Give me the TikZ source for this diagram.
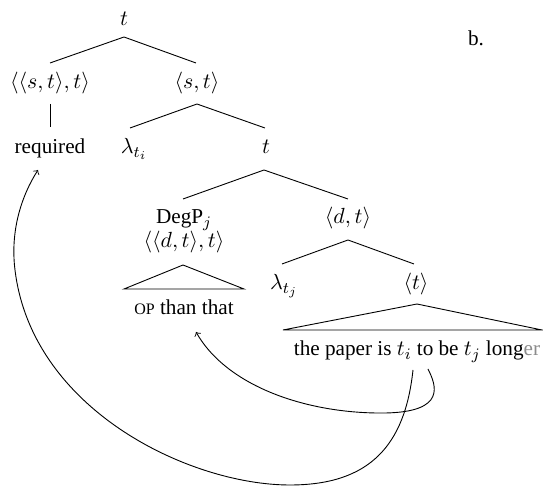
\documentclass[tikz,border=0pt]{standalone}
\usepackage{fontspec}
\setmainfont{Liberation Serif}
\DeclareMathSizes{10.6}{11.4}{8.2}{6.2}
\begin{document}
\begin{tikzpicture}[x=0.5pt,y=-0.5pt,
  lbl/.style={anchor=base,inner sep=0pt,outer sep=0pt,font=\fontsize{10.6}{12.7}\selectfont},
  branch/.style={line width=0.45pt},
  mov/.style={line width=0.45pt,->}]
\useasboundingbox (0,0) rectangle (543,486);
% labels
\node[lbl] (root) at (124,26) {$t$};
\node[lbl] (sttt) at (50,89) {$\langle\langle s,t\rangle,t\rangle$};
\node[lbl] (st) at (197,89) {$\langle s,t\rangle$};
\node[lbl] (req) at (50,154) {required};
\node[lbl] (lti) at (134,154) {$\lambda_{t_i}$};
\node[lbl] (tt) at (266,154) {$t$};
\node[lbl] (degp) at (184,224) {DegP$_j$};
\node[lbl] (dttt) at (184,248) {$\langle\langle d,t\rangle,t\rangle$};
\node[lbl] (dt) at (348,224) {$\langle d,t\rangle$};
\node[lbl] (op) at (184,315) {{\fontsize{8}{9}\selectfont OP} than that};
\node[lbl] (ltj) at (284,290) {$\lambda_{t_j}$};
\node[lbl] (tb) at (416,290) {$\langle t\rangle$};
\node[lbl] (paper) at (417,356) {the paper is $t_i$ to be $t_j$ long\textcolor{black!45}{er}};
\node[lbl] (b) at (476,46) {b.};
% branch points
\coordinate (r0) at (124,37);
\coordinate (r1) at (50,63);
\coordinate (r2) at (196,63);
\coordinate (s0) at (50,104);
\coordinate (s1) at (50,127);
\coordinate (u0) at (197,104);
\coordinate (u1) at (130,128);
\coordinate (u2) at (265,128);
\coordinate (v0) at (264,170);
\coordinate (v1) at (183,199);
\coordinate (v2) at (348,199);
\coordinate (w0) at (183,265);
\coordinate (w1) at (124,289);
\coordinate (w2) at (244,289);
\coordinate (x0) at (348,240);
\coordinate (x1) at (282,264);
\coordinate (x2) at (414,264);
\coordinate (y0) at (417,304);
\coordinate (y1) at (283,330);
\coordinate (y2) at (542,330);
\draw[branch] (r1) -- (r0) -- (r2);
\draw[branch] (s0) -- (s1);
\draw[branch] (u1) -- (u0) -- (u2);
\draw[branch] (v1) -- (v0) -- (v2);
\draw[branch] (w1) -- (w0) -- (w2) -- cycle;
\draw[branch] (x1) -- (x0) -- (x2);
\draw[branch] (y1) -- (y0) -- (y2) -- cycle;
% movement arrows
\coordinate (a0) at (428,369);
\coordinate (a1) at (385,413);
\coordinate (a2) at (196,332);
\draw[mov] (a0) .. controls (436,385) and (447,412) .. (a1)
  .. controls (310,414) and (228,388) .. (a2);
\coordinate (b0) at (413,370);
\coordinate (b1) at (290,485);
\coordinate (b2) at (15,270);
\coordinate (b3) at (38,170);
\draw[mov] (b0) .. controls (405,445) and (370,485) .. (b1)
  .. controls (190,485) and (32,410) .. (b2)
  .. controls (10,230) and (22,195) .. (b3);
\end{tikzpicture}
\end{document}
